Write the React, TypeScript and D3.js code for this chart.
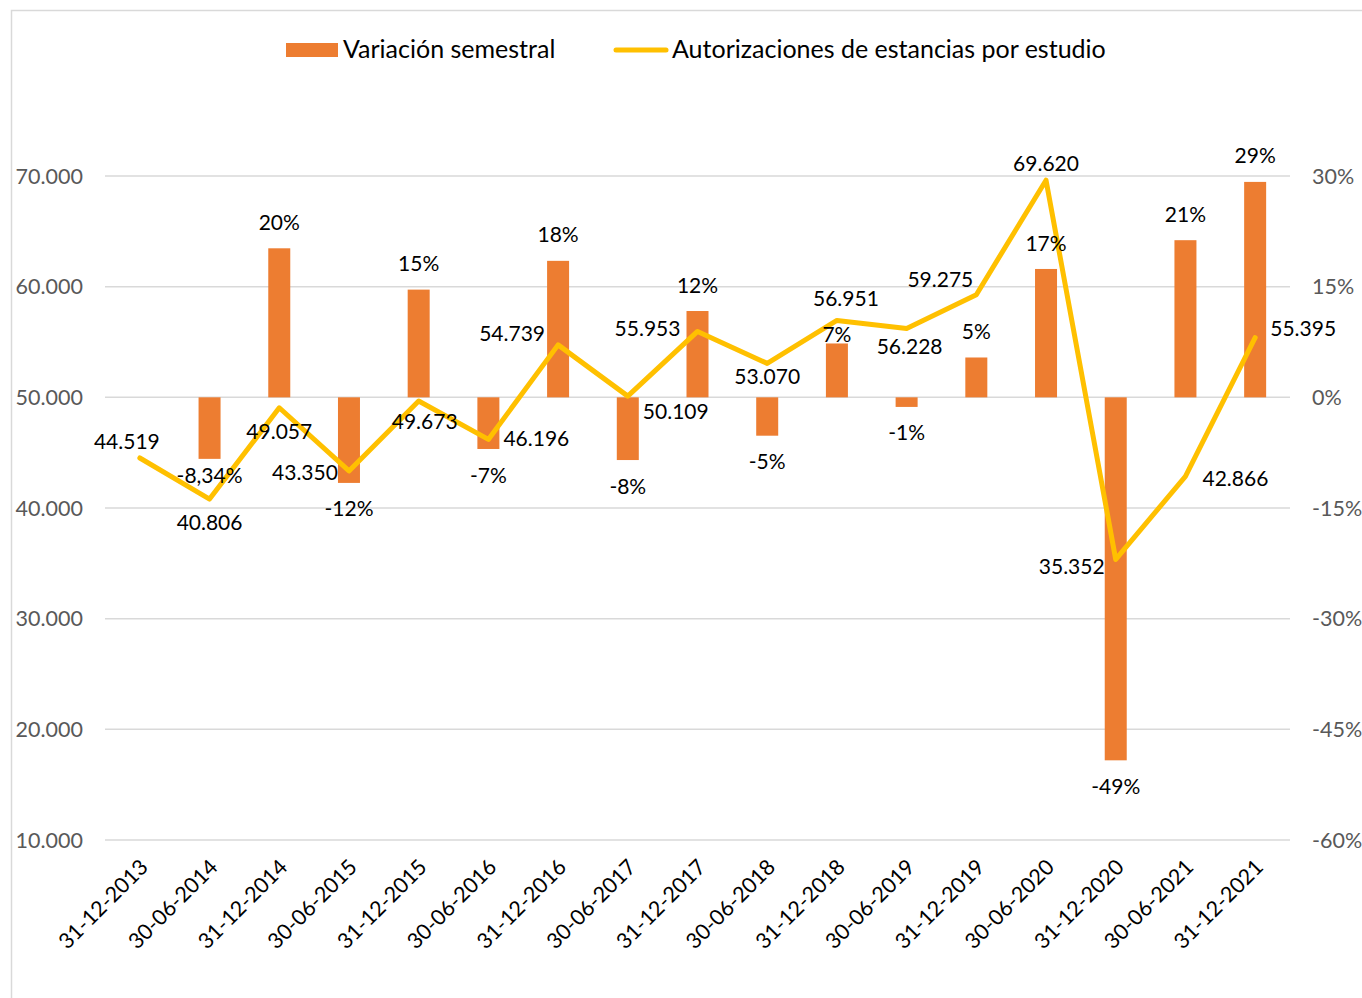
import React, { useEffect, useRef } from 'react';
import * as d3 from 'd3';

// periods (semesters)
const fechas = [
  '31-12-2013', '30-06-2014', '31-12-2014', '30-06-2015', '31-12-2015', '30-06-2016',
  '31-12-2016', '30-06-2017', '31-12-2017', '30-06-2018', '31-12-2018', '30-06-2019',
  '31-12-2019', '30-06-2020', '31-12-2020', '30-06-2021', '31-12-2021',
];

// authorisations (line, left axis)
const autorizaciones = [
  44519, 40806, 49057, 43350, 49673, 46196, 54739, 50109, 55953,
  53070, 56951, 56228, 59275, 69620, 35352, 42866, 55395,
];

// semester variation in % (bars, right axis)
const variacion = [
  null, -8.34, 20.2, -11.6, 14.6, -7.0, 18.5, -8.5, 11.7,
  -5.2, 7.3, -1.3, 5.4, 17.4, -49.2, 21.3, 29.2,
];
const variacionLabels = [
  '', '-8,34%', '20%', '-12%', '15%', '-7%', '18%', '-8%', '12%',
  '-5%', '7%', '-1%', '5%', '17%', '-49%', '21%', '29%',
];

const leftTicks = [10000, 20000, 30000, 40000, 50000, 60000, 70000];
const rightTicks = [-60, -45, -30, -15, 0, 15, 30];

// label offsets for the line labels (dx, dy from the point to the label centre)
const lineLabelOffsets: [number, number][] = [
  [-13, -17], [0, 23], [0, 24], [-44, 2], [6, 20], [48, -1], [-46, -11], [48, 15], [-50, -3],
  [0, 13], [9, -22], [3, 18], [-36, -15], [0, -17], [-44, 7], [50, 2], [48, -9],
];
// bar labels sitting closer than the default
const barLabelGap: Record<number, number> = { 1: 17, 10: 9 };

const W = 1362;
const H = 998;
const FONT = 'Lato, "Noto Sans", sans-serif';

const App: React.FC = () => {
  const svgRef = useRef<SVGSVGElement>(null);

  useEffect(() => {
    if (!svgRef.current) return;
    const svg = d3.select(svgRef.current);
    svg.selectAll('*').remove();

    const left = 105, right = 1290, top = 176, bottom = 840;

    const x = d3.scaleBand<string>().domain(fechas).range([left, right]).paddingInner(0).paddingOuter(0);
    const yL = d3.scaleLinear().domain([10000, 70000]).range([bottom, top]);
    const yR = d3.scaleLinear().domain([-60, 30]).range([bottom, top]);
    const cx = (d: string) => (x(d) as number) + x.bandwidth() / 2;
    const barW = 22;

    // chart frame
    svg.append('rect')
      .attr('x', 11.5).attr('y', 10.5)
      .attr('width', 1400).attr('height', 1000)
      .attr('fill', '#fff').attr('stroke', '#d9d9d9').attr('stroke-width', 1.5);

    // gridlines
    svg.append('g').selectAll('line')
      .data(leftTicks)
      .enter().append('line')
      .attr('x1', left).attr('x2', right)
      .attr('y1', d => yL(d)).attr('y2', d => yL(d))
      .attr('stroke', '#d9d9d9').attr('stroke-width', 1.5);

    const fmtMiles = (v: number) => d3.format(',')(v).replace(/,/g, '.');

    // left axis labels
    svg.append('g').selectAll('text')
      .data(leftTicks)
      .enter().append('text')
      .attr('x', 83).attr('y', d => yL(d))
      .attr('dy', '0.36em')
      .attr('text-anchor', 'end')
      .attr('font-family', FONT).attr('font-size', 21.5)
      .attr('fill', '#595959')
      .text(d => fmtMiles(d));

    // right axis labels
    svg.append('g').selectAll('text')
      .data(rightTicks)
      .enter().append('text')
      .attr('x', 1312).attr('y', d => yR(d))
      .attr('dy', '0.36em')
      .attr('font-family', FONT).attr('font-size', 21.5)
      .attr('fill', '#595959')
      .text(d => `${d}%`);

    // x axis labels
    svg.append('g').selectAll('text')
      .data(fechas)
      .enter().append('text')
      .attr('transform', d => `translate(${cx(d) + 4},${bottom + 23}) rotate(-45)`)
      .attr('text-anchor', 'end')
      .attr('dy', '0.36em')
      .attr('font-family', FONT).attr('font-size', 21.5)
      .attr('fill', '#000')
      .text(d => d);

    // bars
    const barData = fechas.map((f, i) => ({ f, v: variacion[i], label: variacionLabels[i], i }))
      .filter(d => d.v !== null) as { f: string; v: number; label: string; i: number }[];

    svg.append('g').selectAll('rect')
      .data(barData)
      .enter().append('rect')
      .attr('x', d => cx(d.f) - barW / 2)
      .attr('y', d => Math.min(yR(d.v), yR(0)))
      .attr('width', barW)
      .attr('height', d => Math.abs(yR(d.v) - yR(0)))
      .attr('fill', '#ed7d31');

    // line
    const line = d3.line<number>()
      .x((_, i) => cx(fechas[i]))
      .y(d => yL(d));

    svg.append('path')
      .datum(autorizaciones)
      .attr('d', line)
      .attr('fill', 'none')
      .attr('stroke', '#ffc000')
      .attr('stroke-width', 5)
      .attr('stroke-linejoin', 'round')
      .attr('stroke-linecap', 'round');

    // bar labels
    svg.append('g').selectAll('text')
      .data(barData)
      .enter().append('text')
      .attr('x', d => cx(d.f))
      .attr('y', d => {
        const gap = barLabelGap[d.i] ?? 26;
        return d.v >= 0 ? yR(d.v) - gap : yR(d.v) + gap;
      })
      .attr('dy', '0.36em')
      .attr('text-anchor', 'middle')
      .attr('font-family', FONT).attr('font-size', 21)
      .attr('fill', '#000')
      .text(d => d.label);

    // line labels
    svg.append('g').selectAll('text')
      .data(autorizaciones)
      .enter().append('text')
      .attr('x', (d, i) => cx(fechas[i]) + lineLabelOffsets[i][0])
      .attr('y', (d, i) => yL(d) + lineLabelOffsets[i][1])
      .attr('dy', '0.36em')
      .attr('text-anchor', 'middle')
      .attr('font-family', FONT).attr('font-size', 21)
      .attr('fill', '#000')
      .text(d => fmtMiles(d));

    // legend
    const lg = svg.append('g');
    lg.append('rect')
      .attr('x', 286).attr('y', 43).attr('width', 52).attr('height', 14)
      .attr('fill', '#ed7d31');
    lg.append('text')
      .attr('x', 343).attr('y', 58)
      .attr('font-family', FONT).attr('font-size', 25)
      .attr('fill', '#000')
      .text('Variación semestral');
    lg.append('line')
      .attr('x1', 616).attr('x2', 666).attr('y1', 50).attr('y2', 50)
      .attr('stroke', '#ffc000').attr('stroke-width', 5).attr('stroke-linecap', 'round');
    lg.append('text')
      .attr('x', 672).attr('y', 58)
      .attr('font-family', FONT).attr('font-size', 25)
      .attr('fill', '#000')
      .text('Autorizaciones de estancias por estudio');
  }, []);

  return (
    <svg ref={svgRef} width={W} height={H} style={{ position: 'absolute', left: 0, top: 0, display: 'block' }} />
  );
};

export default App;
